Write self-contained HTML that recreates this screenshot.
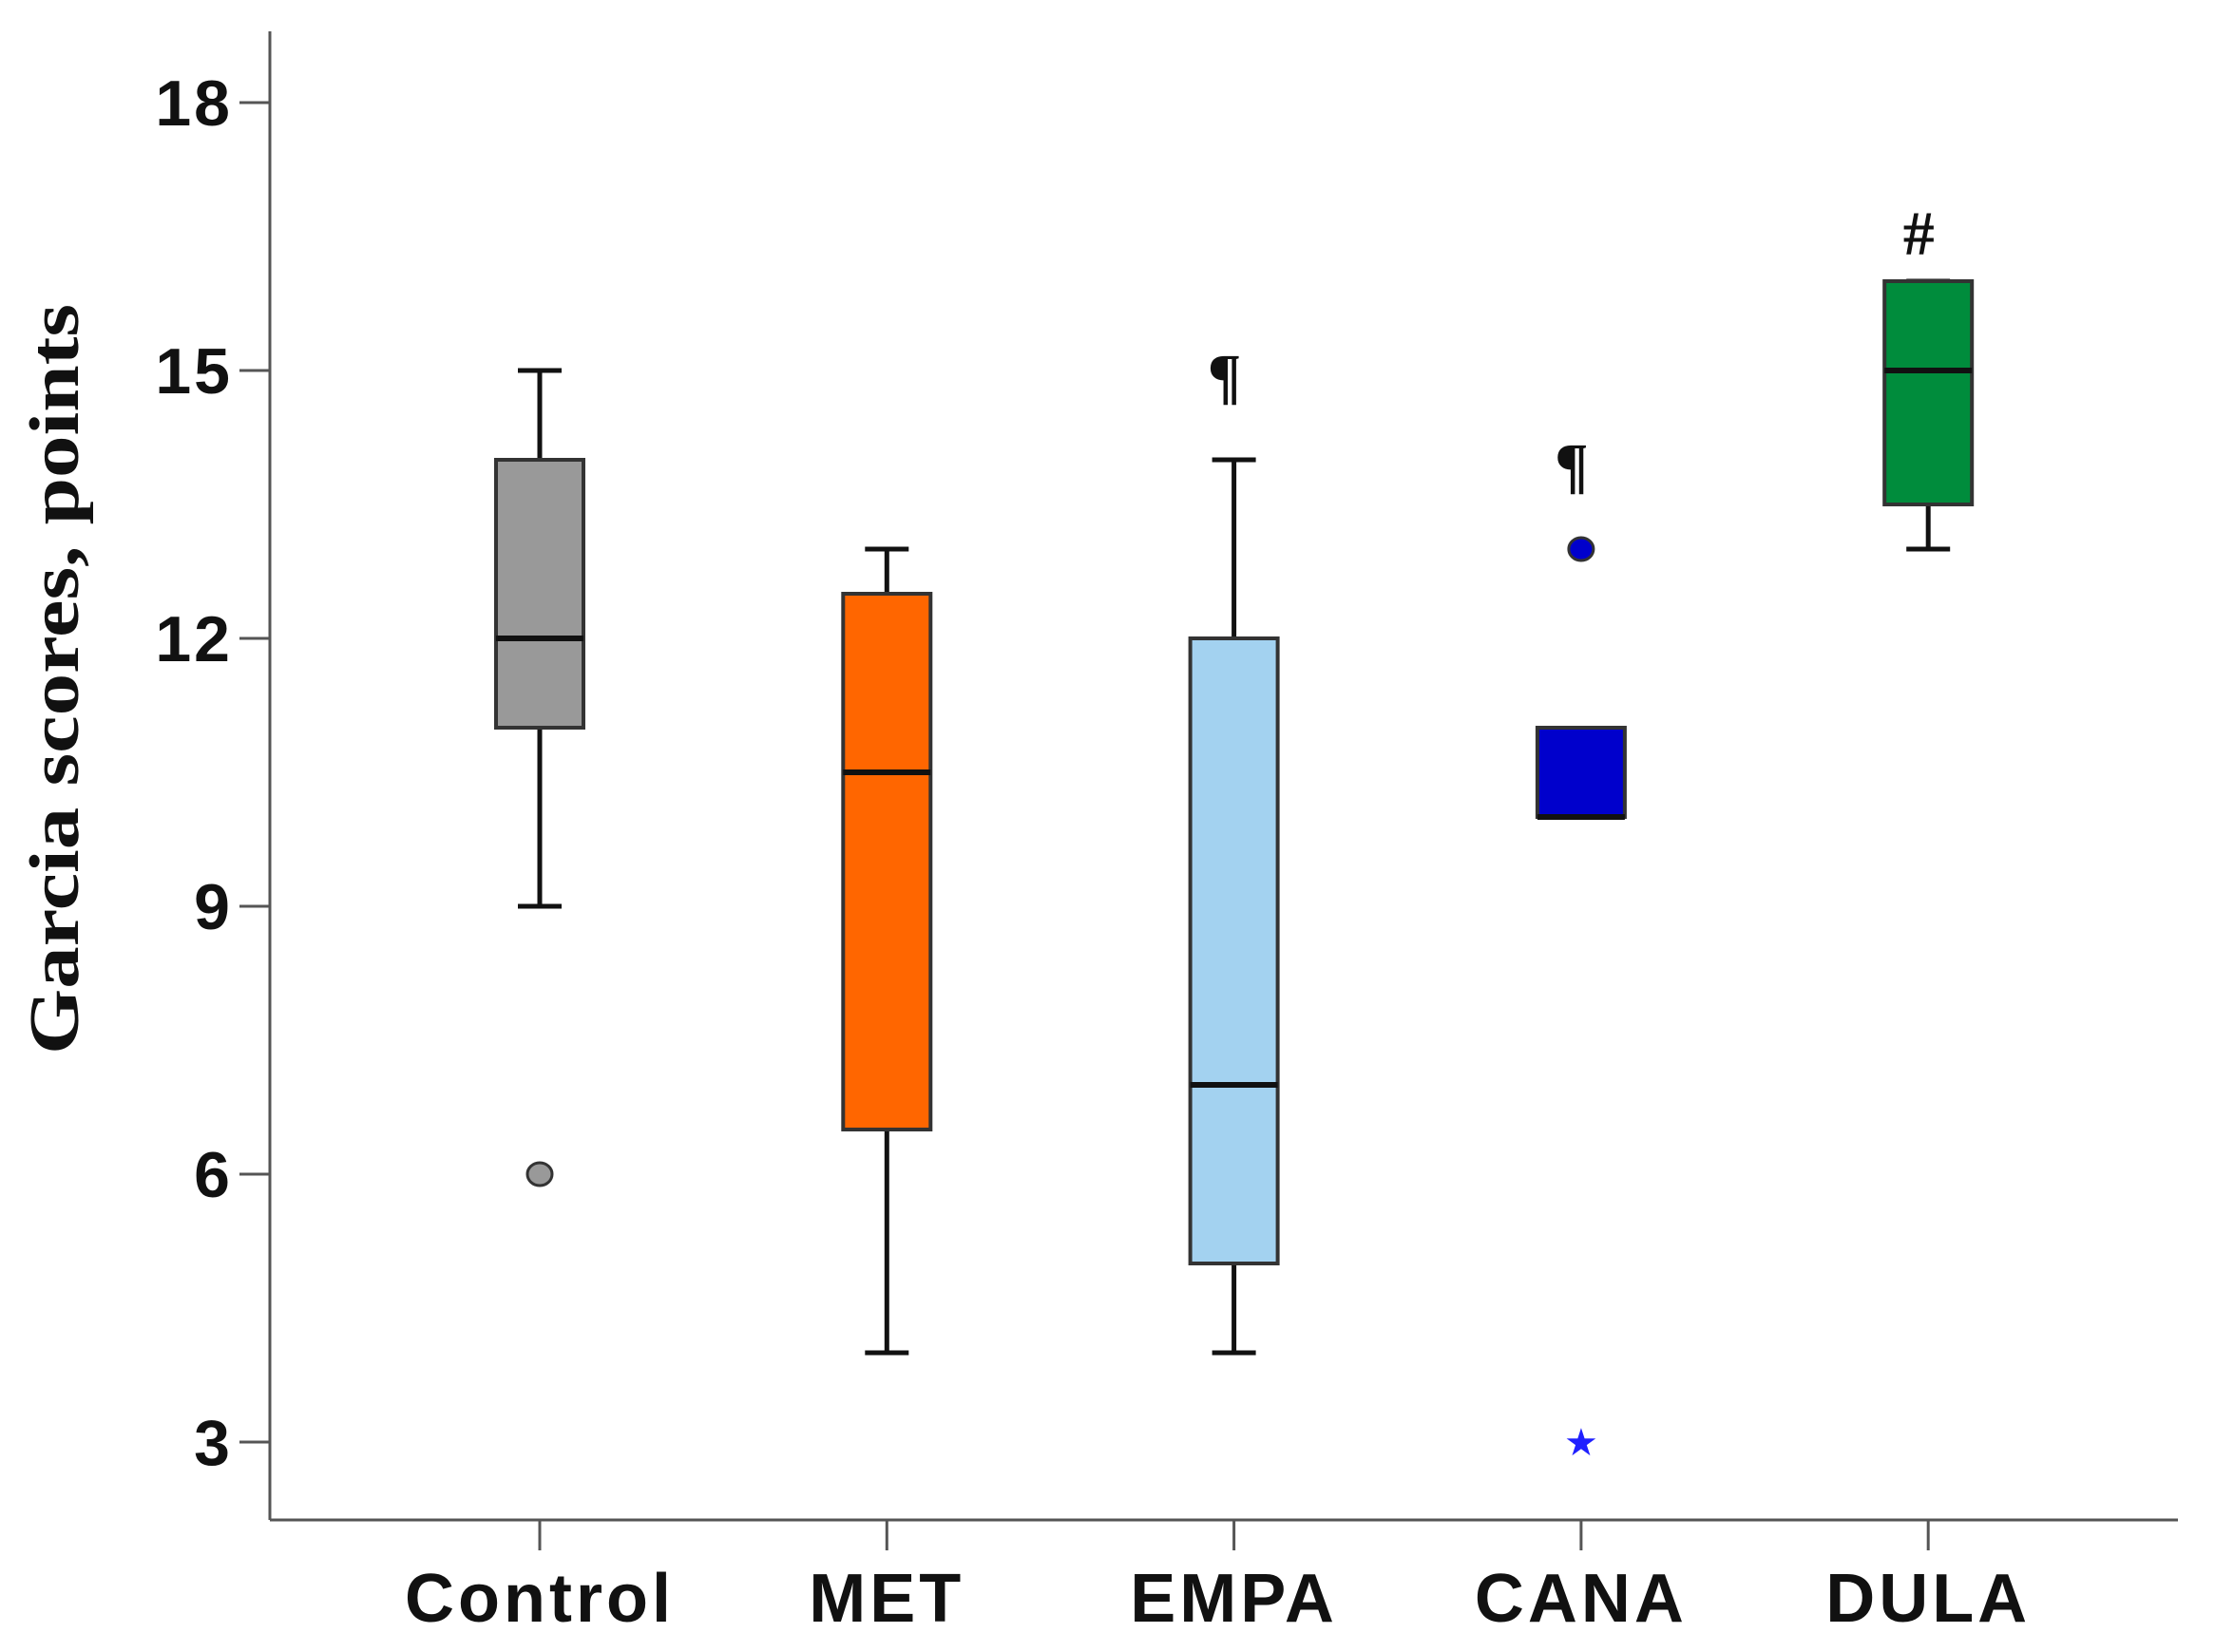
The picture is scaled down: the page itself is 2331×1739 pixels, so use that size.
<!DOCTYPE html>
<html><head><meta charset="utf-8"><style>body{margin:0;background:#fff}svg{display:block}</style></head>
<body>
<svg id="chart" width="2331" height="1739" viewBox="0 0 2331 1739" xmlns="http://www.w3.org/2000/svg">
<g id="axes"></g><g id="marks"></g>
</svg>
<script>
const categories = ["Control","MET","EMPA","CANA","DULA"];
const whiskerLow  = [9, 4, 4, null, 13];
const q1          = [11, 6.5, 5, 10, 13.5];
const medians     = [12, 10.5, 7, 10, 15];
const q3          = [14, 12.5, 12, 11, 16];
const whiskerHigh = [15, 13, 14, null, 16];
const outliers    = [[6], [], [], [13], []];
const extremes    = [[], [], [], [3], []];
const annotations = ["", "", "¶", "¶", "#"];
const annotationY = [null, null, 15, 14, 16.6];
const colors      = ["#999999","#ff6600","#a3d2f0","#0000cc","#008c3c"];
const yTicks      = [3, 6, 9, 12, 15, 18];

const NS = "http://www.w3.org/2000/svg";
const y = v => 1518 - (v - 3) * 94;
const x = i => 568 + i * 365.3;
const halfW = 46;
function mk(tag, attrs, parent, text){
  const e = document.createElementNS(NS, tag);
  for (const k in attrs) e.setAttribute(k, attrs[k]);
  if (text !== undefined) e.textContent = text;
  parent.appendChild(e); return e;
}
const axes = document.getElementById("axes");
const marks = document.getElementById("marks");
let e;
e = mk("line",{x1:284,y1:33,x2:284,y2:1600,stroke:"#555","stroke-width":3},axes);


e = mk("line",{x1:284,y1:1600,x2:2292,y2:1600,stroke:"#555","stroke-width":3},axes);


yTicks.forEach(t=>{
  e = mk("line",{x1:252,y1:y(t),x2:284,y2:y(t),stroke:"#555","stroke-width":3},axes);
  
  
  e = mk("text",{x:245,y:y(t)+24,"text-anchor":"end","font-family":"Liberation Sans, sans-serif","font-weight":"bold","font-size":68,"letter-spacing":3,fill:"#111"},axes,String(t));
  
  
});
e = mk("text",{x:0,y:0,transform:"translate(82,715) rotate(-90)","text-anchor":"middle","font-family":"Liberation Serif, serif","font-weight":"bold","font-size":74,textLength:790,lengthAdjust:"spacingAndGlyphs",fill:"#111"},axes,"Garcia scores, points");


categories.forEach((c,i)=>{
  const cx = x(i);
  e = mk("line",{x1:cx,y1:1600,x2:cx,y2:1632,stroke:"#555","stroke-width":3},axes);
  
  
  e = mk("text",{x:cx,y:1707,"text-anchor":"middle","font-family":"Liberation Sans, sans-serif","font-weight":"bold","font-size":72,"letter-spacing":4,fill:"#111"},axes,c);
  
  
  const g = mk("g",{},marks);
  
  
  if (whiskerLow[i] !== null){
    mk("line",{x1:cx,y1:y(q1[i]),x2:cx,y2:y(whiskerLow[i]),stroke:"#111","stroke-width":5},g);
    mk("line",{x1:cx-23,y1:y(whiskerLow[i]),x2:cx+23,y2:y(whiskerLow[i]),stroke:"#111","stroke-width":5},g);
  }
  if (whiskerHigh[i] !== null){
    mk("line",{x1:cx,y1:y(q3[i]),x2:cx,y2:y(whiskerHigh[i]),stroke:"#111","stroke-width":5},g);
    mk("line",{x1:cx-23,y1:y(whiskerHigh[i]),x2:cx+23,y2:y(whiskerHigh[i]),stroke:"#111","stroke-width":5},g);
  }
  mk("rect",{x:cx-halfW,y:y(q3[i]),width:halfW*2,height:y(q1[i])-y(q3[i]),fill:colors[i],stroke:"#333","stroke-width":4},g);
  mk("line",{x1:cx-halfW,y1:y(medians[i]),x2:cx+halfW,y2:y(medians[i]),stroke:"#111","stroke-width":6},g);
  outliers[i].forEach(v=>{
    e = mk("ellipse",{cx:cx,cy:y(v),rx:13,ry:12,fill:colors[i],stroke:"#333","stroke-width":3},marks);
    
    
  });
  extremes[i].forEach(v=>{
    e = mk("text",{x:cx,y:y(v)+14,"text-anchor":"middle","font-family":"DejaVu Sans, sans-serif","font-size":40,fill:"#2020ff"},marks,"★");
    
    
  });
  if (annotations[i]){
    e = mk("text",{x:cx-10,y:y(annotationY[i])+28,"text-anchor":"middle","font-family":"Liberation Serif, serif","font-weight":"bold","font-size":66,fill:"#111"},marks,annotations[i]);
    
    
  }
});
</script>
</body></html>
